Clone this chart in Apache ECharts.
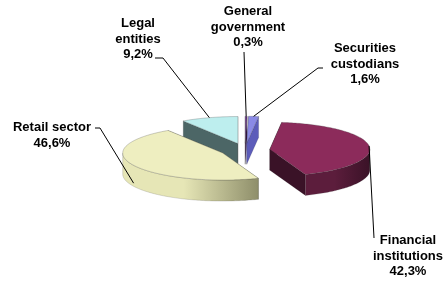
<!DOCTYPE html>
<html><head><meta charset="utf-8">
<script src="https://cdn.jsdelivr.net/npm/echarts@6/dist/echarts.min.js"></script>
<style>html,body{margin:0;padding:0;background:#fff}#c{width:443px;height:286px}</style>
</head><body><div id="c"></div>
<script>
// ---- data ----
const categories = ['General\ngovernment', 'Securities\ncustodians', 'Financial\ninstitutions', 'Retail sector', 'Legal\nentities'];
const shares = [0.3, 1.6, 42.3, 46.6, 9.2];

// ---- styles / layout ----
const topColors = ['#5E2A7C', '#8A8AE6', '#8C2B5B', '#EEEEC0', '#BDEEEE'];
const wallColors = [['#3C1450', '#2C0E3C'], ['#7474D4', '#5C5CBA'], ['#5C1D3C', '#3A1227'], ['#E6E6B6', '#8E8E6A'], ['#567272', '#4C6666']];
const geo = { cx: 245, cy: 150, rx: 100, ry: 27, depth: 21, explode: 25 };
const labelLayout = [
  { x: 248, y: 4, path: [[244, 52]] },
  { x: 365, y: 41, path: [[323, 68], [318, 68]] },
  { x: 408, y: 233, path: [[374, 238]] },
  { x: 52, y: 120, path: [[95, 128], [100, 128]] },
  { x: 138, y: 16, path: [[155, 58], [163, 58]] }
];
const FONT = 'bold 13px "Liberation Sans", Arial, sans-serif';

const total = shares.reduce((s, v) => s + v, 0);
const fmt = v => v.toFixed(1).replace('.', ',') + '%';

function renderItem(params, api) {
  const i = params.dataIndex;
  const v = api.value(0);
  let start = 0;
  for (let k = 0; k < i; k++) start += shares[k];
  const a0 = start / total * 2 * Math.PI;
  const a1 = (start + v) / total * 2 * Math.PI;
  const mid = (a0 + a1) / 2;
  const k = geo.ry / geo.rx;
  const ax = geo.cx + geo.explode * Math.sin(mid);
  const ay = geo.cy - geo.explode * k * Math.cos(mid);
  const D = geo.depth;
  const P = (t, d) => [ax + geo.rx * Math.sin(t), ay - geo.ry * Math.cos(t) + (d || 0)];
  const arc = (t0, t1, d) => {
    const n = Math.max(2, Math.ceil((t1 - t0) / 0.02));
    const pts = [];
    for (let j = 0; j <= n; j++) pts.push(P(t0 + (t1 - t0) * j / n, d));
    return pts;
  };
  const base = (Math.round(-Math.cos(mid) * 10) + 20) * 4;
  const children = [];
  const apex = [ax, ay], apexD = [ax, ay + D];
  [a0, a1].forEach(t => {
    children.push({
      type: 'polygon', z2: base,
      shape: { points: [apex, P(t), P(t, D), apexD] },
      style: { fill: wallColors[i][1], stroke: 'rgba(40,40,40,0.3)', lineWidth: 0.5 }
    });
  });
  const w0 = Math.max(a0, Math.PI / 2), w1 = Math.min(a1, 3 * Math.PI / 2);
  if (w1 > w0) {
    const top = arc(w0, w1, 0), bot = arc(w0, w1, D).reverse();
    children.push({
      type: 'polygon', z2: base + 1,
      shape: { points: top.concat(bot) },
      style: {
        fill: new echarts.graphic.LinearGradient(0, 0, 1, 0, [
          { offset: 0, color: wallColors[i][0] },
          { offset: 0.45, color: wallColors[i][0] },
          { offset: 1, color: wallColors[i][1] }
        ]),
        stroke: 'rgba(60,60,60,0.35)', lineWidth: 0.5
      }
    });
  }
  children.push({
    type: 'polygon', z2: base + 2,
    shape: { points: [apex].concat(arc(a0, a1, 0)) },
    style: { fill: topColors[i], stroke: 'rgba(70,70,70,0.45)', lineWidth: 0.6 }
  });
  // leader line + label
  const L = labelLayout[i];
  const end = P(mid, Math.cos(mid) < 0 ? D * 0.85 : 0);
  children.push({
    type: 'polyline', z2: 1000,
    shape: { points: L.path.concat([end]) },
    style: { stroke: '#000', lineWidth: 1, fill: null }
  });
  children.push({
    type: 'text', z2: 1001,
    style: {
      text: categories[i] + '\n' + fmt(v),
      x: L.x, y: L.y, align: 'center', verticalAlign: 'top',
      font: FONT, lineHeight: 15.5, fill: '#000'
    }
  });
  return { type: 'group', children };
}

const chart = echarts.init(document.getElementById('c'), null, { renderer: 'canvas' });
chart.setOption({
  animation: false,
  backgroundColor: '#fff',
  series: [{
    type: 'custom',
    coordinateSystem: 'none',
    silent: true,
    renderItem,
    data: shares.map(v => [v])
  }]
});
</script>
</body></html>
